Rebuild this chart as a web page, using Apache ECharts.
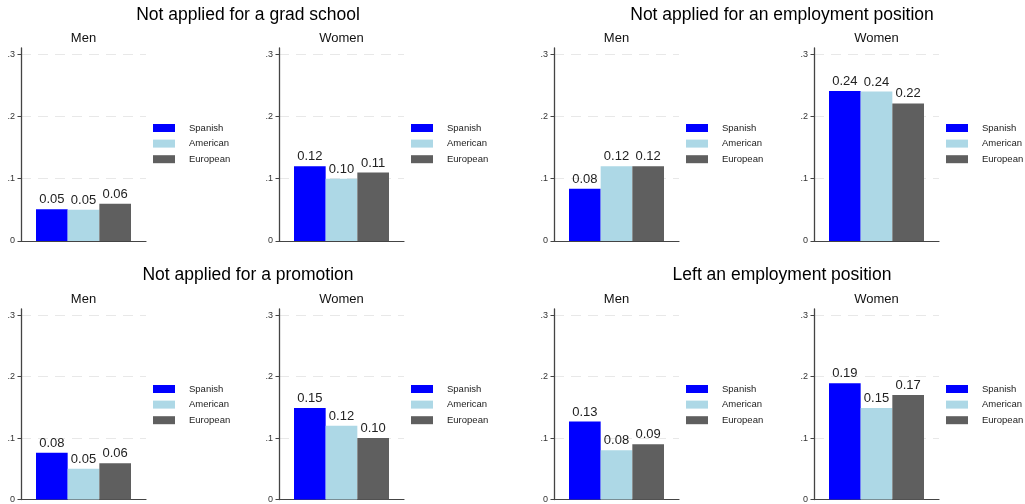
<!DOCTYPE html>
<html>
<head>
<meta charset="utf-8">
<script src="https://cdn.jsdelivr.net/npm/echarts@6/dist/echarts.min.js"></script>
<style>
html,body{margin:0;padding:0;background:#fff;}
#chart{width:1025px;height:504px;}
</style>
</head>
<body>
<div id="chart"></div>
<script>
// ---- data ----
const panelTitles = ['Not applied for a grad school', 'Not applied for an employment position', 'Not applied for a promotion', 'Left an employment position'];
const groups = ['Men', 'Women'];
const seriesNames = ['Spanish', 'American', 'European'];
// order: panel1 Men, panel1 Women, panel2 Men, panel2 Women, ...
const spanish  = [0.051, 0.120, 0.084, 0.241, 0.076, 0.149, 0.127, 0.189];
const american = [0.050, 0.100, 0.120, 0.240, 0.050, 0.120, 0.080, 0.149];
const european = [0.060, 0.110, 0.120, 0.221, 0.059, 0.100, 0.090, 0.170];
const yTicks = [0, 0.1, 0.2, 0.3];
const yTickLabels = ['0', '.1', '.2', '.3'];
const yMax = 0.31;

// ---- layout ----
const FONT = 'Liberation Sans, Arial, Helvetica, sans-serif';
const colors = ['#0000ff', '#add8e6', '#5f5f5f'];
const gridLefts = [21, 279, 554, 814];
const gridWidth = 125;
const rowBottoms = [241, 502];
const gridHeight = 193;
const panelCenters = [248, 782];
const values = [spanish, american, european];

const grids = [], xAxes = [], yAxes = [], series = [], titles = [], legends = [];
for (let i = 0; i < 8; i++) {
  const p = Math.floor(i / 2), g = i % 2;
  const row = Math.floor(p / 2), col = p % 2;
  const left = gridLefts[col * 2 + g];
  const bottom = rowBottoms[row];
  grids.push({left: left, top: bottom - gridHeight, width: gridWidth, height: gridHeight, containLabel: false});
  xAxes.push({
    type: 'category', gridIndex: i, data: [''],
    axisLine: {show: true, lineStyle: {color: '#444', width: 1.2}},
    axisTick: {show: false}, axisLabel: {show: false}, splitLine: {show: false}
  });
  yAxes.push({
    type: 'value', gridIndex: i, min: 0, max: yMax, interval: 0.1,
    axisLine: {show: true, lineStyle: {color: '#444', width: 1.3}},
    axisTick: {show: true, length: 3.5, customValues: yTicks, lineStyle: {color: '#444'}},
    axisLabel: {
      show: true, customValues: yTicks, margin: 6, fontSize: 9, color: '#333', fontFamily: FONT,
      formatter: v => { const k = yTicks.findIndex(t => Math.abs(t - v) < 1e-9); return k >= 0 ? yTickLabels[k] : ''; }
    },
    splitLine: {show: true, lineStyle: {color: '#e8e8e8', width: 1, type: [10, 7]}}
  });
  seriesNames.forEach((name, s) => {
    series.push({
      type: 'bar', name: name, xAxisIndex: i, yAxisIndex: i,
      data: [values[s][i]],
      barGap: '0%', barCategoryGap: '24%',
      itemStyle: {color: colors[s]},
      label: {show: true, position: 'top', distance: 3, fontSize: 13, color: '#222', fontFamily: FONT,
              formatter: d => d.value.toFixed(2)},
      emphasis: {disabled: true}
    });
  });
  titles.push({
    text: groups[g], left: left + gridWidth / 2, top: bottom - 209, textAlign: 'center', padding: 0,
    textStyle: {fontSize: 13, fontWeight: 'normal', color: '#111', fontFamily: FONT}
  });
  legends.push({
    data: seriesNames, orient: 'vertical', left: left + gridWidth + 7, top: bottom - 118, padding: 0,
    icon: 'rect', itemWidth: 22, itemHeight: 8, itemGap: 5.6, selectedMode: false,
    textStyle: {fontSize: 9.5, color: '#222', fontFamily: FONT, lineHeight: 10, padding: [0, 0, 0, 9]}
  });
}
panelTitles.forEach((t, p) => {
  const row = Math.floor(p / 2), col = p % 2;
  titles.push({
    text: t, left: panelCenters[col], top: row === 0 ? 6 : 266, textAlign: 'center', padding: 0,
    textStyle: {fontSize: 17.5, fontWeight: 'normal', color: '#000', fontFamily: FONT}
  });
});

const chart = echarts.init(document.getElementById('chart'), null, {renderer: 'canvas'});
chart.setOption({
  backgroundColor: '#fff',
  animation: false,
  title: titles,
  legend: legends,
  grid: grids,
  xAxis: xAxes,
  yAxis: yAxes,
  series: series
});
</script>
</body>
</html>
